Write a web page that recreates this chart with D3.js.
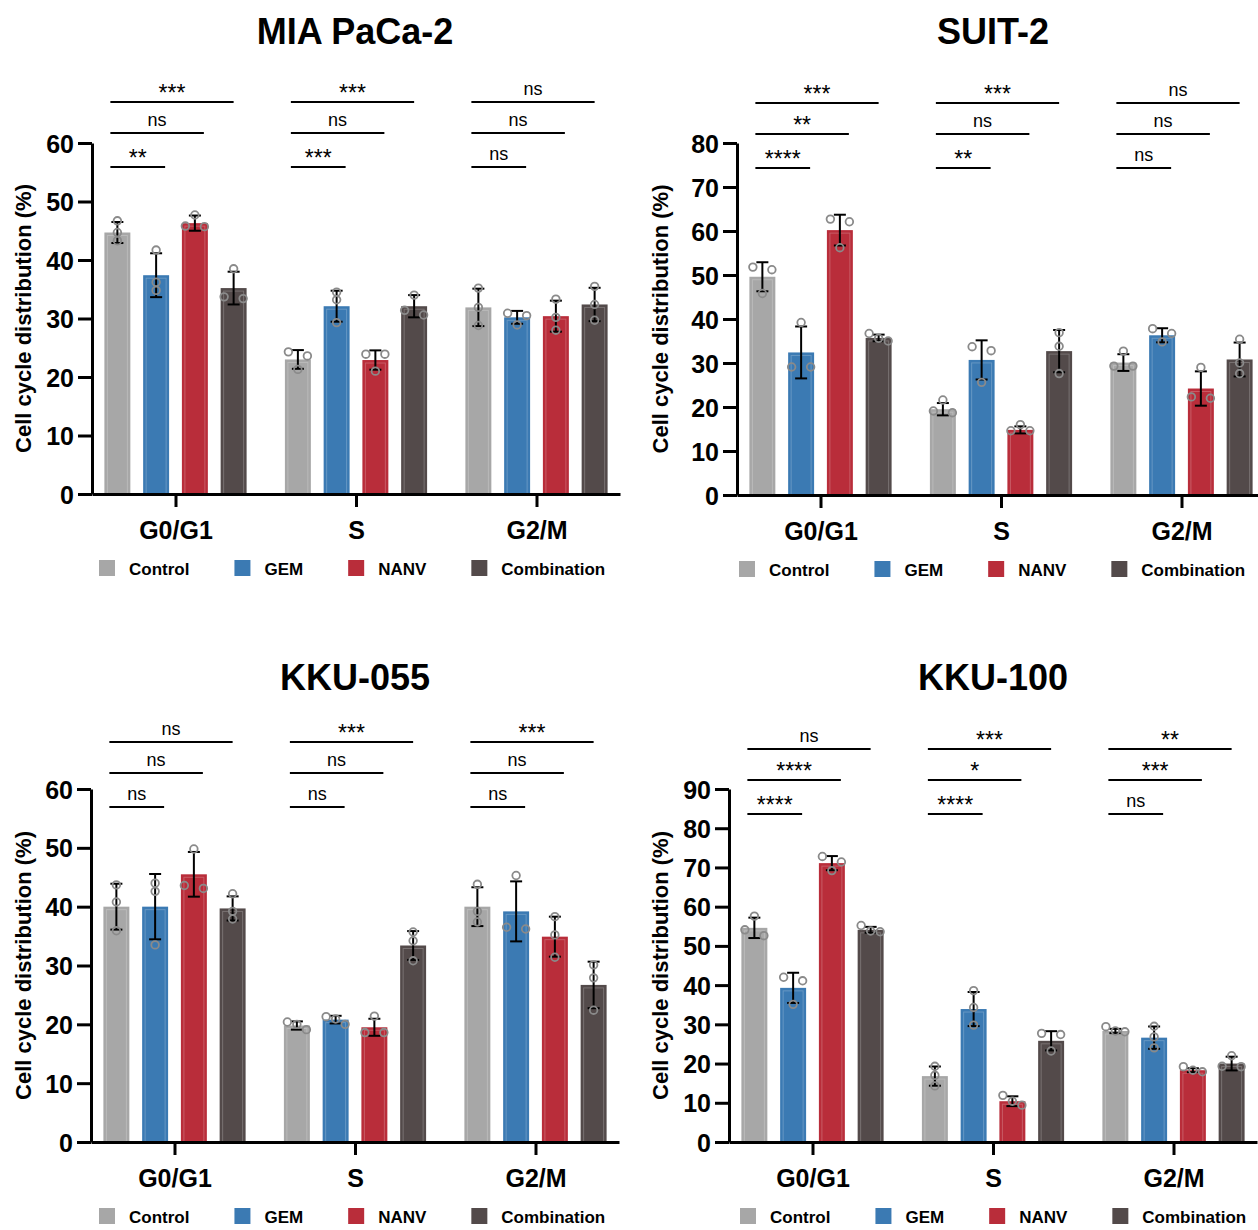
<!DOCTYPE html>
<html>
<head>
<meta charset="utf-8">
<script src="https://d3js.org/d3.v7.min.js"></script>
<style>
  body { margin: 0; background: #fff; }
  svg { display: block; font-family: "Liberation Sans", Arial, sans-serif; }
</style>
</head>
<body>
<script>
// ---- data ----
var conditions = ["Control", "GEM", "NANV", "Combination"];
var phases = ["G0/G1", "S", "G2/M"];
var colors = ["#a7a7a7", "#3b7ab3", "#b92d3a", "#534a4a"];

// MIA PaCa-2 (rows = phase, cols = condition)
var miaMean = [[44.7, 37.4, 46.3, 35.2], [23.0, 32.1, 22.9, 32.1], [31.9, 30.2, 30.4, 32.4]];
var miaSd   = [[1.8, 3.75, 1.3, 2.8], [1.6, 2.65, 1.65, 1.9], [3.2, 1.1, 2.65, 2.85]];
var miaPts  = [
  [[46.7, 44.7, 43.3], [41.7, 36.2, 34.8], [47.7, 45.8, 45.7], [38.5, 33.7, 33.4]],
  [[24.3, 23.6, 21.3], [34.5, 33.2, 29.3], [23.9, 23.9, 21.0], [34.0, 31.4, 30.6]],
  [[35.2, 31.9, 28.8], [30.9, 30.5, 28.9], [33.3, 30.2, 28.0], [35.5, 32.4, 29.7]]
];
var miaSig = [["**", "ns", "***"], ["***", "ns", "***"], ["ns", "ns", "ns"]];

// SUIT-2
var suitMean = [[49.6, 32.4, 60.2, 35.7], [19.5, 30.7, 14.8, 32.7], [30.1, 36.3, 24.2, 30.8]];
var suitSd   = [[3.3, 5.9, 3.5, 0.75], [1.4, 4.45, 0.8, 4.8], [1.9, 1.6, 3.9, 3.85]];
var suitPts  = [
  [[51.8, 51.2, 45.8], [39.2, 29.1, 29.1], [62.7, 62.1, 56.2], [36.7, 35.6, 35.0]],
  [[21.6, 19.1, 18.7], [33.7, 32.8, 25.6], [16.0, 14.6, 14.6], [36.9, 33.8, 27.6]],
  [[32.7, 29.3, 29.3], [37.8, 36.7, 34.8], [29.0, 22.3, 22.0], [35.4, 30.0, 27.6]]
];
var suitSig = [["****", "**", "***"], ["**", "ns", "***"], ["ns", "ns", "ns"]];

// KKU-055
var k055Mean = [[40.0, 40.0, 45.5, 39.7], [19.8, 20.8, 19.5, 33.4], [40.0, 39.2, 34.9, 26.7]];
var k055Sd   = [[3.9, 5.55, 3.8, 2.05], [0.7, 0.65, 1.45, 2.45], [3.3, 5.1, 3.4, 3.95]];
var k055Pts  = [
  [[43.7, 40.8, 35.9], [44.0, 42.6, 33.5], [49.8, 43.6, 43.1], [42.2, 39.2, 37.9]],
  [[20.4, 20.0, 19.1], [21.3, 20.9, 20.0], [21.4, 18.6, 18.6], [35.7, 34.2, 30.8]],
  [[43.8, 39.2, 37.4], [45.3, 36.5, 36.2], [38.3, 35.2, 31.4], [30.1, 27.9, 22.4]]
];
var k055Sig = [["ns", "ns", "ns"], ["ns", "ns", "***"], ["ns", "ns", "***"]];

// KKU-100
var k100Mean = [[54.6, 39.3, 71.1, 54.1], [16.8, 33.9, 10.4, 25.8], [28.3, 26.6, 18.3, 20.0]];
var k100Sd   = [[2.6, 3.85, 1.8, 0.75], [2.45, 4.35, 1.25, 2.45], [0.55, 2.85, 0.5, 1.75]];
var k100Pts  = [
  [[57.6, 54.1, 52.6], [42.0, 41.1, 35.1], [72.8, 71.4, 69.2], [55.2, 53.8, 53.6]],
  [[19.3, 17.0, 14.3], [38.6, 34.3, 29.8], [11.9, 10.4, 9.4], [27.7, 27.4, 23.2]],
  [[29.4, 28.3, 28.1], [29.5, 26.8, 24.0], [19.2, 18.3, 17.9], [22.0, 19.3, 19.2]]
];
var k100Sig = [["****", "****", "ns"], ["****", "*", "***"], ["ns", "***", "**"]];

// ---- layout ----
var panels = [
  { title: "MIA PaCa-2", mean: miaMean, sd: miaSd, pts: miaPts, sig: miaSig, yMax: 60,
    ax: 92, top: 143, zero: 494, colCenter: 355, labelX: 23, legendX: 99, bracketTop: 102 },
  { title: "SUIT-2", mean: suitMean, sd: suitSd, pts: suitPts, sig: suitSig, yMax: 80,
    ax: 737, top: 143, zero: 495, colCenter: 993, labelX: 660, legendX: 739, bracketTop: 103 },
  { title: "KKU-055", mean: k055Mean, sd: k055Sd, pts: k055Pts, sig: k055Sig, yMax: 60,
    ax: 91, top: 789, zero: 1142, colCenter: 355, labelX: 23, legendX: 99, bracketTop: 742 },
  { title: "KKU-100", mean: k100Mean, sd: k100Sd, pts: k100Pts, sig: k100Sig, yMax: 90,
    ax: 729, top: 789, zero: 1142, colCenter: 993, labelX: 660, legendX: 740, bracketTop: 749 }
];

var svg = d3.select("body").append("svg")
  .attr("width", 1258)
  .attr("height", 1230);

// spread overlapping replicate dots sideways, like prism does
function spreadPoints(vals, y, d) {
  var sorted = vals.map(function(v) { return { v: v, py: y(v) }; })
    .sort(function(a, b) { return a.py - b.py; });
  var rows = [], cur = [sorted[0]];
  for (var i = 1; i < sorted.length; i++) {
    if (sorted[i].py - sorted[i - 1].py < 6) cur.push(sorted[i]);
    else { rows.push(cur); cur = [sorted[i]]; }
  }
  rows.push(cur);
  rows.forEach(function(r) {
    var k = r.length;
    r.forEach(function(p, j) {
      p.dx = k === 2 ? (j === 0 ? -d : d) : (j - (k - 1) / 2) * d;
    });
  });
  return sorted;
}

panels.forEach(function(p) {
  var g = svg.append("g");

  var y = d3.scaleLinear().domain([0, p.yMax]).range([p.zero, p.top]);
  var x = d3.scalePoint().domain(phases).range([p.ax, p.ax + 528]).padding(0.4626);
  var xs = d3.scaleBand().domain(conditions).range([-77.5, 77.5])
    .paddingInner(0.33).paddingOuter(0.165);
  var bw = xs.bandwidth();
  function cx(ph, c) { return x(ph) + xs(c) + bw / 2; }

  // title
  g.append("text")
    .attr("x", p.colCenter).attr("y", p.top - 99)
    .attr("text-anchor", "middle")
    .style("font-size", "36px").style("font-weight", "bold")
    .text(p.title);

  // bars
  phases.forEach(function(ph, i) {
    conditions.forEach(function(c, j) {
      var m = p.mean[i][j];
      g.append("rect")
        .attr("x", x(ph) + xs(c)).attr("y", y(m))
        .attr("width", bw).attr("height", p.zero - y(m))
        .attr("fill", colors[j]);
      // faint inner outline
      g.append("rect")
        .attr("x", x(ph) + xs(c) + 3).attr("y", y(m) + 3)
        .attr("width", bw - 6).attr("height", Math.max(0, p.zero - y(m) - 3))
        .attr("fill", "none").attr("stroke", "#fff").attr("stroke-opacity", 0.22)
        .attr("stroke-width", 1);
    });
  });

  // error bars
  phases.forEach(function(ph, i) {
    conditions.forEach(function(c, j) {
      var m = p.mean[i][j], s = p.sd[i][j], xc = cx(ph, c);
      var eb = g.append("g").attr("stroke", "#000").attr("stroke-width", 2);
      eb.append("line").attr("x1", xc).attr("x2", xc).attr("y1", y(m + s)).attr("y2", y(m - s));
      eb.append("line").attr("x1", xc - 6).attr("x2", xc + 6).attr("y1", y(m + s)).attr("y2", y(m + s));
      eb.append("line").attr("x1", xc - 6).attr("x2", xc + 6).attr("y1", y(m - s)).attr("y2", y(m - s));
    });
  });

  // replicate points
  phases.forEach(function(ph, i) {
    conditions.forEach(function(c, j) {
      var pts = spreadPoints(p.pts[i][j], y, 9.5);
      g.selectAll(null).data(pts).enter().append("circle")
        .attr("cx", function(d) { return cx(ph, c) + d.dx; })
        .attr("cy", function(d) { return d.py; })
        .attr("r", 3.8)
        .attr("fill", "none")
        .attr("stroke", "#8a8a8a")
        .attr("stroke-width", 1.8);
    });
  });

  // y axis
  var yAxis = d3.axisLeft(y).tickValues(d3.range(0, p.yMax + 1, 10))
    .tickSize(14).tickSizeOuter(0).tickPadding(4);
  var ya = g.append("g").attr("transform", "translate(" + p.ax + ",0)").call(yAxis);
  ya.select(".domain").attr("stroke-width", 3);
  ya.selectAll(".tick line").attr("stroke-width", 3);
  ya.selectAll(".tick text")
    .style("font-size", "25px").style("font-weight", "bold")
    .style("font-family", "'Liberation Sans', Arial, sans-serif")
    .attr("dy", "0.36em");

  // x axis
  var xAxis = d3.axisBottom(x).tickSize(13).tickSizeOuter(0).tickPadding(14);
  var xa = g.append("g").attr("transform", "translate(0," + p.zero + ")").call(xAxis);
  xa.select(".domain").attr("stroke-width", 3);
  xa.selectAll(".tick line").attr("stroke-width", 3);
  xa.selectAll(".tick text")
    .style("font-size", "25px").style("font-weight", "bold")
    .style("font-family", "'Liberation Sans', Arial, sans-serif");

  // y label
  g.append("text")
    .attr("transform", "translate(" + (p.labelX + 8) + "," + ((p.top + p.zero) / 2) + ") rotate(-90)")
    .attr("text-anchor", "middle")
    .style("font-size", "22px").style("font-weight", "bold")
    .text("Cell cycle distribution (%)");

  // significance brackets: rows vs GEM, NANV, Combination
  var rowOff = [65, 31, 0];
  phases.forEach(function(ph, i) {
    [1, 2, 3].forEach(function(cj, k) {
      var x1 = cx(ph, conditions[0]) - 7;
      var x2 = cx(ph, conditions[cj]) + (cj === 3 ? 0 : 9);
      var ly = p.bracketTop + rowOff[k];
      var lab = p.sig[i][k];
      g.append("line")
        .attr("x1", x1).attr("x2", x2).attr("y1", ly).attr("y2", ly)
        .attr("stroke", "#000").attr("stroke-width", 2);
      var isStar = lab.indexOf("*") >= 0;
      g.append("text")
        .attr("x", (x1 + x2) / 2)
        .attr("y", isStar ? ly - 1 : ly - 7)
        .attr("text-anchor", "middle")
        .style("font-size", isStar ? "23px" : "18px")
        .text(lab);
    });
  });

  // legend
  var lg = g.append("g").attr("transform", "translate(" + p.legendX + "," + (p.zero + 66) + ")");
  var lx = 0;
  conditions.forEach(function(c, j) {
    lg.append("rect").attr("x", lx).attr("y", 0).attr("width", 16).attr("height", 16)
      .attr("fill", colors[j]);
    var t = lg.append("text").attr("x", lx + 30).attr("y", 15)
      .style("font-size", "17px").style("font-weight", "bold")
      .text(c);
    lx += 30 + t.node().getComputedTextLength() + 45;
  });
});
</script>
</body>
</html>
